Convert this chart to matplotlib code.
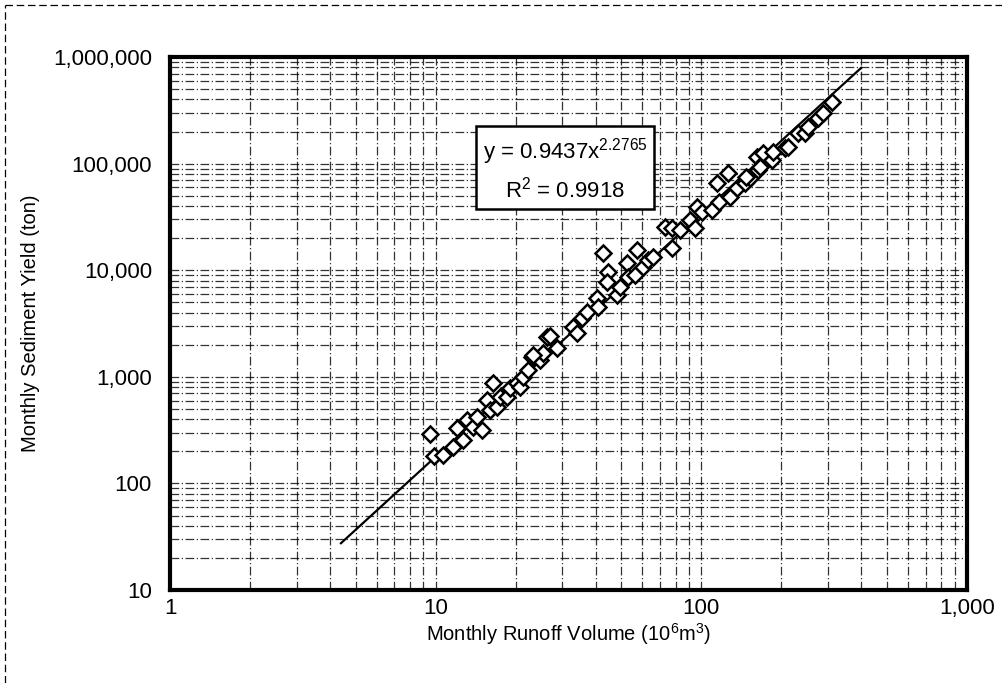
import matplotlib

matplotlib.use("Agg")
import matplotlib.pyplot as plt  # noqa: E402
import numpy as np  # noqa: E402
from matplotlib.lines import Line2D  # noqa: E402
from matplotlib.ticker import FixedLocator, FuncFormatter, NullFormatter  # noqa: E402

# monthly runoff volume (10^6 m3) and sediment yield (ton)
runoff = [9.5, 9.9, 10.7, 11.6, 12.0, 12.7, 13.1, 13.8, 14.3, 14.9, 15.6, 16.0,
          16.4, 17.0, 17.5, 18.5, 19.0, 20.2, 20.8, 21.3, 22.3, 23.0, 24.7, 25.3,
          26.2, 26.9, 28.6, 23.2, 32.9, 34.0, 35.5, 37.1, 40.5, 40.8, 42.6, 44.5,
          44.2, 48.1, 49.4, 52.5, 52.9, 56.3, 57.3, 60.3, 63.0, 65.8, 73.0, 77.5,
          77.5, 83.0, 90.6, 94.6, 96.2, 101, 110, 115, 117, 126, 128, 136, 146,
          152, 163, 162, 171, 148, 166, 171, 184, 186, 206, 212, 231, 246, 252,
          275, 287, 310]
sediment = [290, 181, 185, 219, 331, 255, 394, 338, 420, 317, 605, 489,
            875, 521, 647, 647, 785, 875, 802, 995, 1157, 1535, 1440, 1672,
            2360, 2415, 1862, 1602, 2930, 2576, 3565, 4055, 5480, 4515, 14500, 9620,
            7750, 5850, 6950, 11700, 8630, 9010, 15500, 10700, 12500, 13300, 25400, 24900,
            16100, 23800, 29600, 24900, 39200, 35200, 36700, 65700, 43600, 81600, 48600, 59000, 65700,
            73300, 87100, 115000, 101000, 74900, 92900, 126000, 108000, 128000, 140000, 143000, 194000, 194000, 220000,
            268000, 299000, 378000]

# power-law fit shown in the box
fit_a = 0.9437
fit_b = 2.2765
fit_r2 = 0.9918
fit_range = [4.4, 400]

x_ticks = [1, 10, 100, 1000]
y_ticks = [10, 100, 1000, 10000, 100000, 1000000]

plt.rcParams.update({
    "font.family": ["Liberation Sans", "DejaVu Sans"],
    "font.size": 12,
    "mathtext.fontset": "custom",
    "mathtext.rm": "Liberation Sans",
    "mathtext.it": "Liberation Sans",
})

fig = plt.figure(figsize=(10.03, 6.83), dpi=100)
fig.patch.set_facecolor("white")
ax = fig.add_axes([0.1695, 0.136, 0.7945, 0.7805])

ax.set_xscale("log")
ax.set_yscale("log")
ax.set_xlim(1, 1000)
ax.set_ylim(10, 1000000)

# scanned-paper style grid: dashed lines at every minor and major decade step
grid_style = dict(color="black", linewidth=0.9, linestyle=(0, (7, 2, 1, 2)), alpha=0.8)
ax.grid(True, which="both", **grid_style)

xfit = np.array(fit_range, dtype=float)
ax.plot(xfit, fit_a * xfit ** fit_b, color="black", linewidth=1.6, zorder=3)
ax.plot(runoff, sediment, linestyle="none", marker="D", markersize=8,
        markerfacecolor="white", markeredgecolor="black", markeredgewidth=1.8, zorder=4)

ax.xaxis.set_major_locator(FixedLocator(x_ticks))
ax.yaxis.set_major_locator(FixedLocator(y_ticks))
fmt = FuncFormatter(lambda v, _: f"{int(round(v)):,}")
ax.xaxis.set_major_formatter(fmt)
ax.yaxis.set_major_formatter(fmt)
ax.xaxis.set_minor_formatter(NullFormatter())
ax.yaxis.set_minor_formatter(NullFormatter())
ax.tick_params(which="both", length=0, labelsize=16)
ax.tick_params(axis="x", pad=6)
ax.tick_params(axis="y", pad=13)

for sp in ax.spines.values():
    sp.set_linewidth(3)
    sp.set_color("black")

ax.set_xlabel("Monthly Runoff Volume (10$^6$m$^3$)", fontsize=14.5, labelpad=1)
ax.set_ylabel("Monthly Sediment Yield (ton)", fontsize=14.5, labelpad=9)

ax.text(0.496, 0.79, f"y = {fit_a}x$^{{{fit_b}}}$\nR$^2$ = {fit_r2}",
        transform=ax.transAxes, ha="center", va="center", fontsize=16,
        linespacing=1.45, zorder=5,
        bbox=dict(boxstyle="square,pad=0.3", facecolor="white", edgecolor="black", linewidth=1.8))

# page border from the scan
fig.add_artist(Line2D([0.005, 1.0], [0.993, 0.993], transform=fig.transFigure,
                      color="black", linewidth=0.9, linestyle=(0, (6, 3))))
fig.add_artist(Line2D([0.005, 0.005], [0.0, 0.993], transform=fig.transFigure,
                      color="black", linewidth=0.9, linestyle=(0, (6, 3))))

fig.savefig("out.png", dpi=100, facecolor="white")
